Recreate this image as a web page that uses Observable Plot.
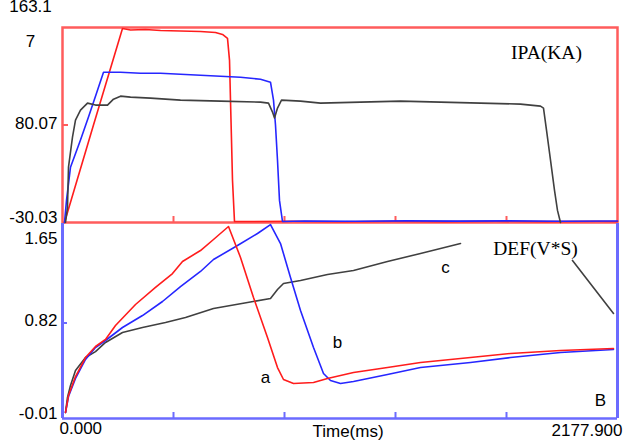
<!DOCTYPE html>
<html><head><meta charset="utf-8">
<script src="https://cdn.jsdelivr.net/npm/d3@7"></script>
<script src="https://cdn.jsdelivr.net/npm/@observablehq/plot@0.6"></script>
<style>
body{margin:0;background:#fff;}
#chart{width:626px;height:441px;overflow:hidden;position:relative;background:#fff;}
#chart svg{display:block;}
</style></head><body><div id="chart"></div>
<script>
// ---------- data ----------
const timeMax = 2177.9;
const xTickValues = [435.58, 871.16, 1306.74, 1742.32];
const xTickLabels = ["0.000", "2177.900"];
const xTitle = "Time(ms)";

// IPA panel ticks
const ipaTicks = [-30.03, 80.07, 163.17];
const ipaTickLabels = ["-30.03", "80.07", "163.1\n7"];
// DEF panel ticks
const defTicks = [-0.01, 0.82, 1.65];
const defTickLabels = ["-0.01", "0.82", "1.65"];

// IPA (KA) series
const ipaRedT = [7.8,121.6,235.4,266.8,325.7,384.6,463.0,541.5,600.4,627.9,647.5,655.4,659.2,663.2,667.1,674.9,737.7,900,1100,1300,1500,1700,1900,2100,2177.9];
const ipaRedV = [-30.03,80.07,162.32,161.05,161.47,160.63,160.2,159.8,158.93,157.24,153.84,135.19,101.27,63.04,17.63,-28.9,-28.9,-28.6,-29.1,-28.7,-29.0,-28.6,-29.0,-28.7,-28.9];
const ipaBlueT = [7.8,15.7,31.4,70.6,102.0,133.4,160.9,227.6,306.1,384.6,463.0,541.5,620.0,698.5,777.0,816.2,828.0,835.8,843.7,851.5,863.3,950,1150,1350,1550,1750,1950,2177.9];
const ipaBlueV = [-30.03,-5.06,32.4,63.04,86.85,107.2,125.01,125.0,124.16,124.16,123.31,122.47,121.62,120.77,119.07,116.53,101.27,80.07,40.34,-5.06,-28.9,-28.3,-28.6,-28.2,-28.5,-28.2,-28.6,-28.3];
const ipaBlackT = [11.8,19.6,23.5,39.2,51.0,70.6,98.1,129.5,176.6,200.1,227.6,266.8,345.3,463.0,620.0,777.0,808.4,824.1,832.0,843.7,859.4,934.0,1012.4,1169.4,1326.3,1483.3,1640.3,1797.2,1875.7,1887.5,1899.3,1915.0,1930.7,1942.4,1954.2];
const ipaBlackV = [-30.03,-13.0,32.4,66.45,84.31,92.79,98.72,97.04,97.04,102.1,104.66,103.8,102.96,101.27,100.42,99.57,98.72,91.08,86.0,94.5,101.27,100.42,98.72,99.57,100.42,99.57,98.72,97.87,96.17,94.48,74.4,40.34,6.29,-16.4,-30.03];

// DEF (V*S) series
const defRedT = [11.8,23.5,51.0,90.3,129.5,168.7,208.0,286.5,364.9,431.7,470.9,541.5,592.5,651.4,698.5,749.5,804.4,843.7,867.2,906.5,984.9,1039.9,1141.9,1275.3,1404.8,1601.0,1758.0,1954.2,2162.2];
const defRedV = [0.042,0.19,0.355,0.52,0.616,0.677,0.798,0.981,1.129,1.25,1.355,1.45,1.546,1.659,1.39,1.042,0.694,0.433,0.329,0.294,0.303,0.338,0.39,0.433,0.477,0.52,0.555,0.581,0.599];
const defBlueT = [11.8,23.5,51.0,90.3,129.5,168.7,235.4,313.9,392.4,463.0,541.5,592.5,686.7,765.2,816.2,855.5,894.7,934.0,985.0,1024.2,1051.7,1090.9,1141.9,1275.3,1404.8,1601.0,1758.0,1954.2,2162.2];
const defBlueV = [0.042,0.181,0.338,0.503,0.607,0.668,0.781,0.885,1.007,1.137,1.268,1.372,1.494,1.598,1.676,1.511,1.216,0.929,0.607,0.381,0.32,0.294,0.312,0.373,0.433,0.477,0.52,0.564,0.59];
const defBlackT = [11.8,19.6,31.4,51.0,90.3,129.5,168.7,235.4,313.9,404.2,482.7,592.5,726.0,816.2,843.7,867.2,934.0,1039.9,1141.9,1275.3,1404.8,1561.8,1780,2001.3,2162.2];
const defBlackV = [0.042,0.173,0.277,0.407,0.52,0.571,0.651,0.738,0.781,0.825,0.868,0.946,0.998,1.033,1.111,1.164,1.19,1.242,1.277,1.355,1.424,1.511,null,1.364,0.903];

// annotations
const ipaTitle = {t: 1899.3, v: 141.97, text: "IPA(KA)"};
const defTitle = {t: 1856.1, v: 1.468, text: "DEF(V*S)"};
const defLetters = ["a", "b", "c", "B"];
const defLetterT = [796.6, 1079.1, 1503.0, 2111.2];
const defLetterV = [0.346, 0.651, 1.303, 0.146];

// ---------- helpers ----------
const zip = (T, V) => T.map((t, i) => ({t, v: V[i]}));
const RED = "#ff1c1c", BLUE = "#2626ff", BLACK = "#404040";
const FRAME_RED = "#ff5c5c", FRAME_BLUE = "#6b6bff";
const SANS = "Arial, 'Liberation Sans', sans-serif";
const SERIF = "'Times New Roman', 'Liberation Serif', serif";
const baseStyle = {fontFamily: SANS, fontSize: "17px", background: "transparent", overflow: "visible", color: "#000"};

const topPlot = Plot.plot({
  width: 626, height: 223,
  marginLeft: 62, marginRight: 9, marginTop: 27, marginBottom: 1,
  x: {domain: [0, timeMax], axis: null},
  y: {type: "linear", domain: ipaTicks, axis: null},
  style: baseStyle,
  marks: [
    Plot.frame({stroke: FRAME_RED, strokeWidth: 2.5}),
    Plot.ruleX(xTickValues, {stroke: FRAME_RED, strokeWidth: 2, insetTop: 189}),
    Plot.ruleY([ipaTicks[1]], {stroke: FRAME_RED, strokeWidth: 2, insetRight: 549}),
    Plot.line(zip(ipaRedT, ipaRedV), {x: "t", y: "v", stroke: RED, strokeWidth: 1.6}),
    Plot.line(zip(ipaBlueT, ipaBlueV), {x: "t", y: "v", stroke: BLUE, strokeWidth: 1.6}),
    Plot.line(zip(ipaBlackT, ipaBlackV), {x: "t", y: "v", stroke: BLACK, strokeWidth: 1.6}),
    Plot.text([0], {y: () => ipaTicks[0], text: () => ipaTickLabels[0], frameAnchor: "left", textAnchor: "end", lineAnchor: "middle", dx: -5, dy: -5, fill: "#000"}),
    Plot.text([0], {y: () => ipaTicks[1], text: () => ipaTickLabels[1], frameAnchor: "left", textAnchor: "end", lineAnchor: "middle", dx: -5, dy: -1, fill: "#000"}),
    Plot.text([0], {y: () => ipaTicks[2], text: () => ipaTickLabels[2], frameAnchor: "left", textAnchor: "middle", lineAnchor: "middle", dx: -32, dy: -9, lineHeight: 2.05, fill: "#000"}),
    Plot.text([ipaTitle], {x: "t", y: "v", text: "text", fontFamily: SERIF, fontSize: 19.5, fill: "#000"})
  ]
});

const bottomPlot = Plot.plot({
  width: 626, height: 218,
  marginLeft: 62, marginRight: 9, marginTop: 0, marginBottom: 23,
  x: {domain: [0, timeMax], axis: null},
  y: {domain: [defTicks[0], 1.685], axis: null},
  style: baseStyle,
  marks: [
    Plot.ruleX([0, timeMax], {stroke: FRAME_BLUE, strokeWidth: 3}),
    Plot.ruleY([defTicks[0]], {stroke: FRAME_BLUE, strokeWidth: 2.5}),
    Plot.ruleX(xTickValues, {stroke: FRAME_BLUE, strokeWidth: 2, insetTop: 189}),
    Plot.ruleY([defTicks[1]], {stroke: FRAME_BLUE, strokeWidth: 2, insetRight: 550}),
    Plot.line(zip(defBlackT, defBlackV), {x: "t", y: "v", stroke: BLACK, strokeWidth: 1.6}),
    Plot.line(zip(defBlueT, defBlueV), {x: "t", y: "v", stroke: BLUE, strokeWidth: 1.6}),
    Plot.line(zip(defRedT, defRedV), {x: "t", y: "v", stroke: RED, strokeWidth: 1.6}),
    Plot.text([0], {y: () => defTicks[0], text: () => defTickLabels[0], frameAnchor: "left", textAnchor: "end", lineAnchor: "middle", dx: -5, dy: -5, fill: "#000"}),
    Plot.text([0], {y: () => defTicks[1], text: () => defTickLabels[1], frameAnchor: "left", textAnchor: "end", lineAnchor: "middle", dx: -5, dy: -2, fill: "#000"}),
    Plot.text([0], {y: () => defTicks[2], text: () => defTickLabels[2], frameAnchor: "left", textAnchor: "end", lineAnchor: "middle", dx: -5, dy: 11, fill: "#000"}),
    Plot.text([0], {x: () => 0, text: () => xTickLabels[0], frameAnchor: "bottom", textAnchor: "start", lineAnchor: "middle", dx: -3, dy: 10, fill: "#000"}),
    Plot.text([0], {x: () => timeMax, text: () => xTickLabels[1], frameAnchor: "bottom", textAnchor: "end", lineAnchor: "middle", dx: 5, dy: 12, fill: "#000"}),
    Plot.text([xTitle], {text: d => d, frameAnchor: "bottom", lineAnchor: "middle", dx: 8, dy: 13, fill: "#000"}),
    Plot.text(defLetters.map((s, i) => ({s, t: defLetterT[i], v: defLetterV[i]})), {x: "t", y: "v", text: "s", fill: "#000"}),
    Plot.text([defTitle], {x: "t", y: "v", text: "text", fontFamily: SERIF, fontSize: 19.5, fill: "#000"})
  ]
});

const chart = document.getElementById("chart");
chart.appendChild(topPlot);
chart.appendChild(bottomPlot);
</script></body></html>
